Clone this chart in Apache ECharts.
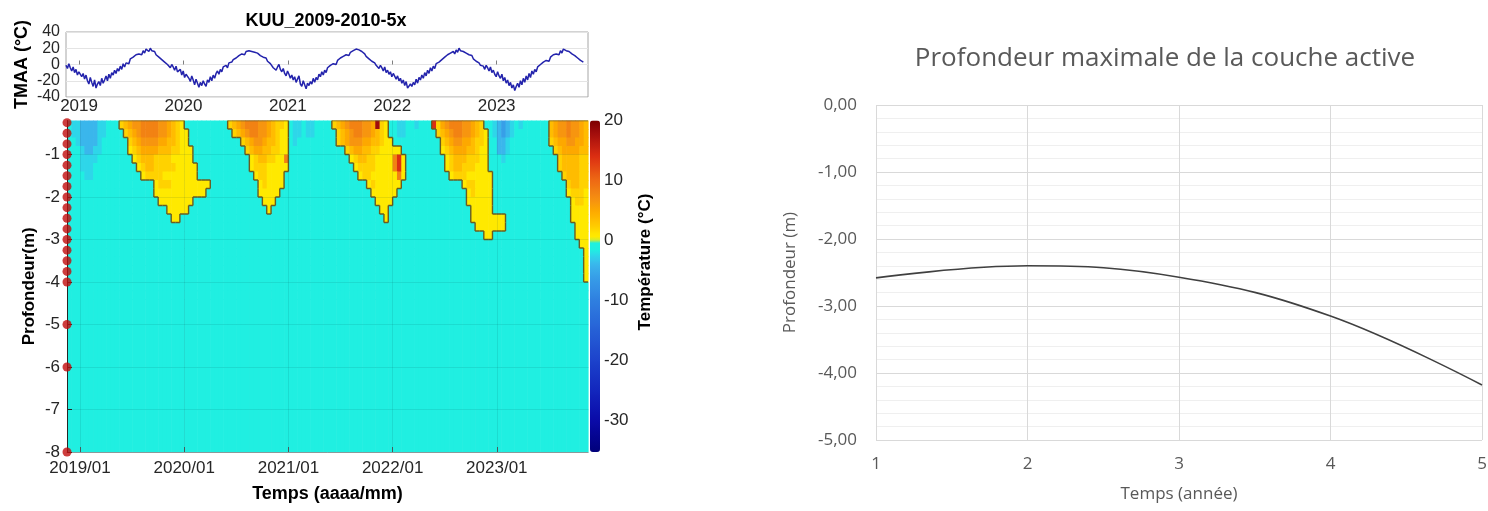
<!DOCTYPE html>
<html>
<head>
<meta charset="utf-8">
<script src="https://cdn.jsdelivr.net/npm/echarts@6/dist/echarts.min.js"></script>
<style>
  html, body { margin: 0; padding: 0; background: #ffffff; }
  #chart { width: 1488px; height: 511px; }
</style>
</head>
<body>
<div id="chart"></div>
<script>
// ---------- borehole record time frame (decimal years) ----------
const timeStart = 2018.875;
const timeEnd = 2023.875;
const yearTicks = [2019, 2020, 2021, 2022, 2023];

// ---------- air temperature (TMAA), one value every 5 days from 15 Nov ----------
const tmaaStepDays = 5;
const tmaa2019 = [
  -1, -5, 1, -4, -8, -3, -10, -6, -13, -9, -7, -15,
  -11, -18, -13, -20, -24, -16, -22, -27, -19, -29, -24, -21,
  -26, -17, -23, -19, -14, -20, -12, -17, -10, -13, -7, -11,
  -5, -8, -2, -6, 1, -3, 2, 4, 1, 7, 5, 9,
  8, 12, 10, 13, 15, 12, 17, 14, 19, 18, 16, 20,
  17, 15, 16, 12, 13, 9, 10, 6, 7, 3, 4, 0, -2
];
const tmaa2020 = [
  -4, 0, -3, -7, -2, -9, -11, -6, -13, -8, -16, -12,
  -10, -17, -21, -14, -19, -25, -18, -23, -28, -22, -26, -20,
  -24, -27, -19, -22, -15, -20, -13, -17, -11, -8, -12, -6,
  -9, -3, -5, -1, -4, 2, 0, 3, 6, 4, 8, 7,
  11, 9, 13, 15, 12, 16, 14, 17, 19, 16, 18, 15,
  17, 14, 15, 11, 12, 9, 7, 8, 4, 5, 1, -1, -4
];
const tmaa2021 = [
  -2, -7, -3, 0, -6, -9, -5, -11, -14, -8, -12, -17,
  -13, -19, -15, -22, -18, -14, -24, -27, -20, -25, -30, -23,
  -26, -21, -24, -17, -22, -16, -19, -12, -15, -9, -13, -7,
  -10, -4, -6, -1, -3, 1, 3, 0, 5, 4, 8, 6,
  10, 9, 12, 14, 11, 15, 13, 17, 16, 19, 21, 18,
  19, 16, 15, 13, 10, 11, 7, 8, 4, 5, 2, -1, -3
];
const tmaa2022 = [
  -5, -1, -4, -8, -3, -10, -7, -12, -9, -15, -11, -13,
  -18, -14, -20, -17, -23, -19, -26, -21, -29, -31, -24, -27,
  -22, -25, -18, -23, -16, -19, -13, -17, -10, -14, -7, -11,
  -4, -8, -2, -5, 1, -1, 3, 2, 6, 4, 9, 7,
  12, 10, 14, 12, 16, 13, 18, 15, 20, 17, 19, 16,
  17, 14, 15, 12, 10, 11, 7, 8, 4, 5, 2, -1, -3
];
const tmaa2023 = [
  -2, -6, -1, -4, -8, -3, -10, -7, -12, -15, -9, -14,
  -17, -12, -20, -16, -23, -19, -26, -22, -29, -25, -32, -27,
  -23, -28, -20, -25, -17, -22, -14, -19, -11, -16, -8, -12,
  -6, -9, -3, -5, 0, -2, 3, 1, 5, 7, 4, 9,
  8, 12, 10, 13, 15, 12, 17, 14, 19, 21, 17, 19,
  16, 18, 13, 15, 11, 12, 8, 9, 5, 6, 3, 4
];
const tmaaYears = [tmaa2019, tmaa2020, tmaa2021, tmaa2022, tmaa2023];

// ---------- ground temperature field ----------
// row boundaries (m), half-month columns from timeStart
const depthEdges = [-0.2, -0.4, -0.6, -0.8, -1.0, -1.2, -1.4, -1.6, -1.8, -2.0, -2.2,
  -2.4, -2.6, -2.8, -3.0, -3.2, -3.4, -3.6, -3.8, -4.0, -4.2, -4.4, -5, -6, -7, -8];
const columnCount = 120;
// temperature classes (°C) used in the field rows
const tempCodes = { '.': -1.5, ',': -2.5, '-': -4, '=': -6,
  '1': 0.8, '2': 2, '3': 3.5, '4': 5, '5': 6.5, '6': 8, '8': 14, '9': 18 };
// each row: "startColumn:class" runs, top row first
const fieldRuns = [
  "0:. 1:, 3:- 7:, 9:. 12:2 13:3 14:4 15:5 17:6 21:5 23:4 24:3 25:2 26:1 27:. 37:2 38:3 39:4 40:5 41:6 44:5 46:4 47:3 48:2 50:1 51:. 52:, 54:. 55:, 57:. 61:2 62:3 63:4 64:5 65:6 68:5 70:4 71:9 72:2 73:1 74:. 76:, 78:. 80:, 81:. 84:8 85:2 86:4 87:5 88:6 91:5 93:4 94:3 95:2 96:. 98:, 99:- 100:= 101:- 102:, 103:. 104:, 105:. 111:3 112:4 113:5 115:6 116:5 118:4 119:3",
  "0:. 1:, 3:- 7:, 9:. 13:2 14:3 15:4 16:5 17:6 21:5 23:4 24:3 25:2 26:1 28:. 38:2 39:3 40:4 41:5 42:6 44:5 46:4 47:3 48:2 49:1 51:. 52:, 54:. 55:, 57:. 62:2 63:3 64:4 65:5 66:6 68:5 70:4 71:3 72:2 73:1 74:. 76:, 78:. 85:2 86:3 87:4 88:5 89:6 91:5 93:4 94:3 95:2 96:1 97:. 98:, 99:- 100:= 101:- 102:, 103:. 111:3 112:4 113:5 115:6 116:5 118:4 119:3",
  "0:. 2:, 3:- 7:, 8:. 14:2 15:3 16:4 17:5 21:4 23:3 25:2 26:1 28:. 40:2 41:3 42:4 43:5 45:4 46:3 48:2 49:1 51:. 52:, 53:. 62:2 63:3 64:4 65:5 68:4 70:3 72:2 73:1 75:. 86:2 87:3 88:4 89:5 91:4 93:3 94:2 96:1 97:. 99:- 101:, 102:. 111:2 112:3 113:4 115:5 117:4 119:3",
  "0:. 3:, 4:- 6:, 8:. 14:1 15:2 16:3 17:4 21:3 24:2 26:1 29:. 41:2 42:3 43:4 45:3 47:2 49:1 51:. 64:2 65:3 66:4 68:3 70:2 72:1 77:. 86:1 87:2 88:3 89:4 92:3 94:2 95:1 97:. 99:- 101:, 102:. 112:2 113:3 114:4 118:3",
  "0:. 3:, 7:. 15:1 16:2 17:3 20:2 24:1 29:. 42:1 43:2 44:3 46:2 48:1 50:6 51:. 65:1 66:2 67:3 69:2 71:1 75:6 76:8 77:1 78:. 87:1 88:2 89:3 92:2 95:1 97:. 100:, 101:. 113:2 114:3 118:2",
  "0:. 3:, 6:. 16:1 17:2 18:3 20:2 25:1 30:. 42:1 43:2 46:1 51:. 66:1 67:2 69:2 71:1 75:6 76:8 77:1 78:. 87:1 88:2 89:3 91:2 94:1 97:. 113:2 114:3 118:2",
  "0:. 4:, 6:. 17:1 18:2 22:1 30:. 43:1 44:2 46:1 50:. 67:1 68:2 70:1 76:6 77:1 78:. 88:1 89:2 92:1 98:. 114:2 115:3 118:2",
  "0:. 20:1 21:2 24:1 33:. 44:1 45:2 46:1 50:. 69:1 70:2 71:1 77:. 91:1 92:2 94:1 98:. 115:2 116:3 118:2",
  "0:. 20:1 32:. 44:1 49:. 70:1 76:. 92:1 93:2 94:1 98:. 115:1 116:2 119:1",
  "0:. 21:1 29:. 45:1 48:. 71:1 75:. 92:1 98:. 116:1 117:2 119:1",
  "0:. 23:1 28:. 46:1 47:. 72:1 74:. 93:1 98:. 116:1",
  "0:. 24:1 26:. 73:1 74:. 93:1 101:. 116:1",
  "0:. 94:1 101:. 117:1",
  "0:. 96:1 98:. 117:1",
  "0:. 118:1",
  "0:. 119:1",
  "0:. 119:1",
  "0:. 119:1",
  "0:. 119:1",
  "0:.",
  "0:.",
  "0:.",
  "0:.",
  "0:.",
  "0:."
];
// thermistor positions (m)
const sensorDepths = [-0.25, -0.5, -0.75, -1, -1.25, -1.5, -1.75, -2, -2.25, -2.5, -2.75,
  -3, -3.25, -3.5, -3.75, -4, -5, -6, -8];
const depthTicks = [-1, -2, -3, -4, -5, -6, -7, -8];
const colorbarTicks = [20, 10, 0, -10, -20, -30];
const colorbarMin = -35.2;
const colorbarMax = 20;

// ---------- maximum active layer depth ----------
const yearIndex = [1, 2, 3, 4, 5];
const maxThawDepth = [-2.58, -2.40, -2.57, -3.15, -4.18];

// ---------- colour map: blue-cyan below 0 °C, yellow-red above ----------
const coldStops = [[-35.2, '#00007a'], [-30, '#0a0aa8'], [-25, '#1226bd'], [-20, '#1c42cb'],
  [-15, '#2660d6'], [-10, '#2f7fe0'], [-6, '#379fe8'], [-4, '#3ab6ec'], [-2.5, '#2ed6ea'],
  [-1.5, '#1ff0e0'], [0, '#1ff0e0']];
const warmStops = [[0, '#ffea00'], [1, '#ffe800'], [2, '#ffd200'], [3.5, '#ffbc00'], [5, '#fda800'],
  [6.5, '#f7950f'], [8, '#f28213'], [10, '#ee6a14'], [14, '#dc2e12'], [18, '#a00c0c'], [20, '#7c0000']];

function hexToRgb(h) { return [1, 3, 5].map(i => parseInt(h.substr(i, 2), 16)); }
function sampleStops(stops, v) {
  for (let i = 0; i < stops.length - 1; i++) {
    const [v0, c0] = stops[i], [v1, c1] = stops[i + 1];
    if (v >= v0 && v <= v1) {
      const f = v1 === v0 ? 0 : (v - v0) / (v1 - v0);
      const a = hexToRgb(c0), b = hexToRgb(c1);
      return 'rgb(' + a.map((x, k) => Math.round(x + (b[k] - x) * f)).join(',') + ')';
    }
  }
  return stops[v < stops[0][0] ? 0 : stops.length - 1][1];
}
const colorSteps = 221;
const colorList = [];
for (let k = 0; k < colorSteps; k++) {
  const v = colorbarMin + (colorbarMax - colorbarMin) * k / (colorSteps - 1);
  colorList.push(v < 0 ? sampleStops(coldStops, v) : sampleStops(warmStops, v));
}

// ---------- build series data ----------
const tmaaData = [];
tmaaYears.forEach((arr, k) => {
  arr.forEach((v, i) => {
    tmaaData.push([timeStart + (365 * k + tmaaStepDays * i) / 365.25, v]);
  });
});

function expandRuns(s) {
  const out = new Array(columnCount).fill('.');
  const runs = s.trim().split(/\s+/).map(p => {
    const idx = p.indexOf(':');
    return [parseInt(p.slice(0, idx), 10), p.slice(idx + 1)];
  });
  runs.forEach((run, j) => {
    const end = j + 1 < runs.length ? runs[j + 1][0] : columnCount;
    for (let c = run[0]; c < end; c++) out[c] = run[1];
  });
  return out;
}
const fieldGrid = fieldRuns.map(expandRuns).map(row => row.map(ch => tempCodes[ch]));
const rowCount = depthEdges.length - 1;
const colWidth = (timeEnd - timeStart) / columnCount;
const thawed = (r, c) => fieldGrid[r][c] > 0;
const cellData = [];
const edgeData = [];
for (let r = 0; r < rowCount; r++) {
  for (let c = 0; c < columnCount; c++) {
    const v = fieldGrid[r][c];
    let mask = 0;
    if (v > 0) {
      if (r === 0 || !thawed(r - 1, c)) mask |= 1;
      if (c + 1 < columnCount && !thawed(r, c + 1)) mask |= 2;
      if (r + 1 < rowCount && !thawed(r + 1, c)) mask |= 4;
      if (c > 0 && !thawed(r, c - 1)) mask |= 8;
    }
    const item = [timeStart + c * colWidth, timeStart + (c + 1) * colWidth, depthEdges[r], depthEdges[r + 1], v, mask];
    cellData.push(item);
    if (mask) edgeData.push(item);
  }
}

function renderCell(params, api) {
  const a = api.coord([api.value(0), api.value(2)]);
  const b = api.coord([api.value(1), api.value(3)]);
  return {
    type: 'rect',
    shape: { x: a[0], y: a[1], width: b[0] - a[0] + 0.6, height: b[1] - a[1] + 0.6 },
    style: { fill: api.visual('color') }
  };
}
function renderEdge(params, api) {
  const mask = api.value(5);
  const a = api.coord([api.value(0), api.value(2)]);
  const b = api.coord([api.value(1), api.value(3)]);
  const st = { stroke: '#6a5c22', lineWidth: 1.4 };
  const ch = [];
  if (mask & 1) ch.push({ type: 'line', shape: { x1: a[0], y1: a[1], x2: b[0], y2: a[1] }, style: st });
  if (mask & 2) ch.push({ type: 'line', shape: { x1: b[0], y1: a[1], x2: b[0], y2: b[1] }, style: st });
  if (mask & 4) ch.push({ type: 'line', shape: { x1: a[0], y1: b[1], x2: b[0], y2: b[1] }, style: st });
  if (mask & 8) ch.push({ type: 'line', shape: { x1: a[0], y1: a[1], x2: a[0], y2: b[1] }, style: st });
  return { type: 'group', children: ch };
}

const sensorData = sensorDepths.map(d => [timeStart, d]);
const thawCurve = yearIndex.map((x, i) => [x, maxThawDepth[i]]);

// ---------- styles ----------
const mFont = 'Liberation Sans';
const mText = '#262626';
const xlFont = 'Open Sans';
const xlText = '#595959';

const chart = echarts.init(document.getElementById('chart'), null, { renderer: 'canvas' });
chart.setOption({
  animation: false,
  backgroundColor: '#ffffff',
  graphic: [
    { type: 'text', x: 326, y: 21, style: { text: 'KUU_2009-2010-5x', font: 'bold 18px "Liberation Sans"', fill: '#000', textAlign: 'center', align: 'center', textVerticalAlign: 'middle', verticalAlign: 'middle' } },
    { type: 'text', x: 645, y: 262, rotation: Math.PI / 2, style: { text: 'Température (°C)', font: 'bold 17px "Liberation Sans"', fill: '#000', textAlign: 'center', align: 'center', textVerticalAlign: 'middle', verticalAlign: 'middle' } },
    { type: 'text', x: 1165, y: 59, style: { text: 'Profondeur maximale de la couche active', font: '26px "Open Sans"', fill: xlText, textAlign: 'center', align: 'center', textVerticalAlign: 'middle', verticalAlign: 'middle' } }
  ],
  grid: [
    { left: 66, top: 32, width: 522, height: 65, show: true, borderColor: '#a6a6a6', borderWidth: 1, backgroundColor: '#fff', containLabel: false, outerBoundsMode: 'none' },
    { left: 67, top: 120.5, width: 521, height: 331.5, containLabel: false, outerBoundsMode: 'none' },
    { left: 590, top: 120.5, width: 10, height: 331.5, containLabel: false, outerBoundsMode: 'none' },
    { left: 876, top: 105, width: 606, height: 335, containLabel: false, outerBoundsMode: 'none' }
  ],
  xAxis: [
    {
      gridIndex: 0, type: 'value', min: timeStart, max: timeEnd,
      axisLine: { show: false },
      axisTick: { show: true, inside: true, length: 4, customValues: yearTicks, lineStyle: { color: '#7f7f7f' } },
      axisLabel: { customValues: yearTicks, margin: 1, formatter: v => String(Math.round(v)), fontFamily: mFont, fontSize: 17, color: mText },
      splitLine: { show: false }
    },
    {
      gridIndex: 1, type: 'value', min: timeStart, max: timeEnd, z: 6,
      name: 'Temps (aaaa/mm)', nameLocation: 'middle', nameGap: 33,
      nameTextStyle: { fontFamily: mFont, fontSize: 18, fontWeight: 'bold', color: '#000' },
      axisLine: { show: true, lineStyle: { color: '#8a9a9a', width: 1 } },
      axisTick: { show: true, inside: true, length: 5, customValues: yearTicks, lineStyle: { color: '#4a5a5a' } },
      axisLabel: { customValues: yearTicks, margin: 8, formatter: v => Math.round(v) + '/01', fontFamily: mFont, fontSize: 17, color: mText },
      splitLine: { show: true, lineStyle: { color: 'rgba(0,60,60,0.10)', width: 1 } }
    },
    { gridIndex: 2, type: 'value', min: 0, max: 1, show: false },
    {
      gridIndex: 3, type: 'value', min: 1, max: 5, interval: 1,
      name: 'Temps (année)', nameLocation: 'middle', nameGap: 46,
      nameTextStyle: { fontFamily: xlFont, fontSize: 17, color: xlText },
      axisLine: { show: false }, axisTick: { show: false },
      axisLabel: { margin: 16, fontFamily: xlFont, fontSize: 17, color: xlText },
      splitLine: { show: true, lineStyle: { color: '#d9d9d9', width: 1 } }
    }
  ],
  yAxis: [
    {
      gridIndex: 0, type: 'value', min: -40, max: 40, interval: 20,
      name: 'TMAA (°C)', nameLocation: 'middle', nameGap: 35, nameRotate: 90,
      nameTextStyle: { fontFamily: mFont, fontSize: 18, fontWeight: 'bold', color: '#000' },
      axisLine: { show: false }, axisTick: { show: false },
      axisLabel: { margin: 6, fontFamily: mFont, fontSize: 16, color: mText },
      splitLine: { show: true, lineStyle: { color: '#e4e4e4', width: 1 } }
    },
    {
      gridIndex: 1, type: 'value', min: -8, max: -0.2, z: 6,
      name: 'Profondeur(m)', nameLocation: 'middle', nameGap: 29, nameRotate: 90,
      nameTextStyle: { fontFamily: mFont, fontSize: 17, fontWeight: 'bold', color: '#000' },
      axisLine: { show: true, lineStyle: { color: '#262626', width: 1 } },
      axisTick: { show: true, inside: true, length: 5, customValues: depthTicks, lineStyle: { color: '#262626' } },
      axisLabel: { customValues: depthTicks, margin: 7, fontFamily: mFont, fontSize: 17, color: mText },
      splitLine: { show: true, lineStyle: { color: 'rgba(0,60,60,0.10)', width: 1 } }
    },
    {
      gridIndex: 2, type: 'value', position: 'right', min: colorbarMin, max: colorbarMax,
      axisLine: { show: false }, axisTick: { show: false },
      axisLabel: { customValues: colorbarTicks, margin: 4, fontFamily: mFont, fontSize: 17, color: mText },
      splitLine: { show: false }
    },
    {
      gridIndex: 3, type: 'value', min: -5, max: 0, interval: 1,
      name: 'Profondeur (m)', nameLocation: 'middle', nameGap: 77, nameRotate: 90,
      nameTextStyle: { fontFamily: xlFont, fontSize: 17, color: xlText },
      axisLine: { show: false }, axisTick: { show: false },
      axisLabel: { margin: 19, fontFamily: xlFont, fontSize: 17, color: xlText, formatter: v => v.toFixed(2).replace('.', ',') },
      splitLine: { show: true, lineStyle: { color: '#d9d9d9', width: 1 } },
      minorTick: { show: false, splitNumber: 5 },
      minorSplitLine: { show: true, lineStyle: { color: '#efefef', width: 1 } }
    }
  ],
  visualMap: [{
    type: 'continuous', seriesIndex: 1, dimension: 4,
    min: colorbarMin, max: colorbarMax, calculable: false, realtime: false,
    orient: 'vertical', left: 590, top: 120.5, itemWidth: 10, itemHeight: 331.5,
    padding: 0, showLabel: false, text: null, hoverLink: false,
    inRange: { color: colorList }
  }],
  series: [
    {
      type: 'line', xAxisIndex: 0, yAxisIndex: 0, data: tmaaData,
      showSymbol: false, symbol: 'none', silent: true,
      lineStyle: { color: '#2323ac', width: 1.5 }
    },
    {
      type: 'custom', xAxisIndex: 1, yAxisIndex: 1, data: cellData,
      encode: { x: [0, 1], y: [2, 3] }, renderItem: renderCell, clip: true, silent: true, z: 2
    },
    {
      type: 'custom', xAxisIndex: 1, yAxisIndex: 1, data: edgeData,
      encode: { x: [0, 1], y: [2, 3] }, renderItem: renderEdge, clip: true, silent: true, z: 3
    },
    {
      type: 'scatter', xAxisIndex: 1, yAxisIndex: 1, data: sensorData,
      symbol: 'circle', symbolSize: 9, clip: false, silent: true, z: 10,
      itemStyle: { color: '#c00d0d' }
    },
    {
      type: 'line', xAxisIndex: 3, yAxisIndex: 3, data: thawCurve,
      smooth: 0.4, showSymbol: false, symbol: 'none', silent: true,
      lineStyle: { color: '#404040', width: 1.6 }
    }
  ]
});
</script>
</body>
</html>
